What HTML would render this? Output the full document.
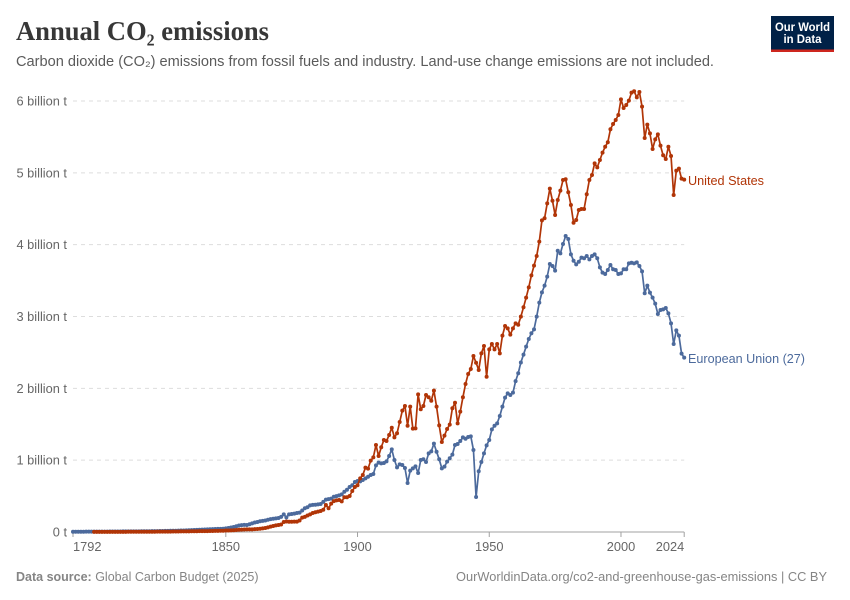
<!DOCTYPE html>
<html lang="en">
<head>
<meta charset="utf-8">
<title>Annual CO₂ emissions</title>
<style>
html,body{margin:0;padding:0;background:#fff}
svg{display:block}
text{font-family:"Liberation Sans",sans-serif}
</style>
</head>
<body>
<svg id="chart" xmlns="http://www.w3.org/2000/svg" width="850" height="600" viewBox="0 0 850 600">
  <rect width="850" height="600" fill="#fff"/>
  <text x="16" y="40" font-size="27" font-weight="700" fill="#373737" textLength="253" lengthAdjust="spacingAndGlyphs" style='font-family:"Liberation Serif",serif'>Annual CO₂ emissions</text>
  <text x="16" y="66" font-size="14.5" fill="#5b5b5b" textLength="698" lengthAdjust="spacingAndGlyphs">Carbon dioxide (CO₂) emissions from fossil fuels and industry. Land-use change emissions are not included.</text>
  <g>
    <rect x="771" y="16" width="63" height="36" fill="#002147"/>
    <rect x="771" y="49.5" width="63" height="2.5" fill="#ce261e"/>
    <text x="802.5" y="31" font-size="12" font-weight="700" fill="#fff" text-anchor="middle" textLength="55" lengthAdjust="spacingAndGlyphs">Our World</text>
    <text x="802.5" y="43" font-size="12" font-weight="700" fill="#fff" text-anchor="middle" textLength="38" lengthAdjust="spacingAndGlyphs">in Data</text>
  </g>
  <g id="grid"></g>
  <g id="yticks"></g>
  <g id="xaxis"></g>
  <g id="series"></g>
  <text x="688" y="185" font-size="13" fill="#b13507" textLength="76" lengthAdjust="spacingAndGlyphs">United States</text>
  <text x="688" y="363" font-size="13" fill="#4c6a9c" textLength="117" lengthAdjust="spacingAndGlyphs">European Union (27)</text>
  <text x="16" y="581" font-size="12.5" fill="#858585"><tspan font-weight="700">Data source:</tspan> Global Carbon Budget (2025)</text>
  <text x="827" y="581" font-size="12.5" fill="#858585" text-anchor="end" textLength="371" lengthAdjust="spacingAndGlyphs">OurWorldinData.org/co2-and-greenhouse-gas-emissions | CC BY</text>
</svg>
<script>
var yTickValues = [0, 1, 2, 3, 4, 5, 6];
var yTickLabels = ["0 t", "1 billion t", "2 billion t", "3 billion t", "4 billion t", "5 billion t", "6 billion t"];
var xTickYears = [1792, 1850, 1900, 1950, 2000, 2024];
var usStartYear = 1800;
var euStartYear = 1792;
var usValues = [
  .001,.001,.001,.001,.001,.001,.002,.002,.002,.002,
  .002,.002,.002,.003,.003,.003,.003,.003,.003,.004,
  .004,.004,.004,.004,.005,.005,.005,.006,.006,.006,
  .007,.007,.007,.008,.008,.009,.009,.01,.01,.011,
  .012,.012,.013,.013,.014,.014,.015,.016,.017,.018,
  .02,.021,.023,.025,.027,.031,.033,.035,.036,.037,
  .037,.04,.042,.045,.05,.055,.065,.074,.084,.092,
  .098,.104,.14,.146,.143,.142,.144,.144,.16,.2,
  .21,.23,.245,.265,.275,.283,.292,.31,.376,.33,
  .395,.43,.44,.445,.427,.483,.483,.501,.571,.626,
  .65,.747,.794,.896,.882,.993,1.039,1.211,1.058,1.179,
  1.281,1.267,1.35,1.452,1.318,1.374,1.531,1.689,1.754,1.48,
  1.745,1.439,1.443,1.916,1.708,1.754,1.907,1.875,1.828,1.968,
  1.745,1.485,1.253,1.341,1.434,1.494,1.722,1.8,1.513,1.675,
  1.875,2.06,2.2,2.269,2.45,2.357,2.255,2.487,2.589,2.162,
  2.543,2.617,2.543,2.617,2.487,2.733,2.868,2.835,2.747,2.835,
  2.905,2.886,2.998,3.128,3.262,3.406,3.573,3.708,3.842,4.042,
  4.339,4.367,4.575,4.78,4.612,4.413,4.622,4.752,4.9,4.91,
  4.729,4.552,4.306,4.343,4.483,4.497,4.497,4.701,4.9,4.97,
  5.132,5.076,5.179,5.281,5.364,5.425,5.606,5.68,5.735,5.805,
  6.023,5.903,5.944,6.005,6.116,6.135,6.051,6.125,5.921,5.485,
  5.671,5.55,5.332,5.466,5.536,5.378,5.244,5.193,5.364,5.234,
  4.691,5.03,5.058,4.919,4.905
];
var euValues = [
  .004,.004,.004,.004,.004,.005,.005,.005,
  .005,.005,.006,.006,.006,.006,.007,.007,.007,.007,
  .007,.008,.008,.008,.008,.009,.009,.009,.01,.01,
  .011,.011,.012,.012,.013,.014,.014,.015,.016,.017,
  .018,.018,.019,.02,.021,.022,.024,.026,.028,.03,
  .032,.033,.034,.036,.038,.04,.042,.044,.044,.046,
  .05,.056,.062,.07,.08,.09,.095,.1,.098,.108,
  .12,.132,.14,.15,.155,.16,.17,.18,.185,.19,
  .195,.21,.246,.204,.245,.25,.255,.265,.27,.3,
  .33,.345,.37,.378,.38,.385,.39,.42,.45,.458,
  .465,.49,.5,.51,.524,.561,.589,.626,.65,.696,
  .71,.705,.724,.747,.77,.794,.807,.928,.965,.956,
  .961,.984,1.058,1.151,1.002,.9,.942,.933,.891,.682,
  .854,.886,.914,.821,1.002,1.012,.974,1.095,1.123,1.23,
  1.118,1.012,.886,.91,.979,1.026,1.077,1.211,1.225,1.267,
  1.318,1.299,1.323,1.332,1.142,.487,.845,.974,1.095,1.206,
  1.281,1.429,1.48,1.513,1.615,1.745,1.87,1.93,1.907,1.94,
  2.1,2.21,2.36,2.47,2.58,2.687,2.766,2.821,2.998,3.193,
  3.336,3.429,3.555,3.731,3.703,3.638,3.916,3.879,4.009,4.121,
  4.079,3.865,3.777,3.726,3.763,3.819,3.81,3.842,3.796,3.842,
  3.865,3.81,3.684,3.61,3.592,3.647,3.717,3.657,3.647,3.592,
  3.601,3.657,3.657,3.74,3.749,3.74,3.754,3.703,3.629,3.323,
  3.429,3.332,3.262,3.179,3.035,3.09,3.1,3.118,3.044,2.905,
  2.617,2.807,2.733,2.483,2.427
];

var SVG_NS = "http://www.w3.org/2000/svg";
var X_MIN_YEAR = 1792, X_MAX_YEAR = 2024, X_LEFT = 73, X_RIGHT = 684.2;
var Y_BASE = 532, Y_TOP = 101, Y_MAX = 6;
function xScale(year) {
  return X_LEFT + (year - X_MIN_YEAR) * (X_RIGHT - X_LEFT) / (X_MAX_YEAR - X_MIN_YEAR);
}
function yScale(value) {
  return Y_BASE - value * (Y_BASE - Y_TOP) / Y_MAX;
}
function make(tag, attrs, parent) {
  var el = document.createElementNS(SVG_NS, tag);
  for (var k in attrs) el.setAttribute(k, attrs[k]);
  parent.appendChild(el);
  return el;
}

var gridGroup = document.getElementById("grid");
var yGroup = document.getElementById("yticks");
yTickValues.forEach(function (v, i) {
  if (v !== 0) {
    var line = make("line", {x1: X_LEFT, x2: X_RIGHT, y1: yScale(v), y2: yScale(v), stroke: "#dddddd", "stroke-width": 1, "stroke-dasharray": "4,4"}, gridGroup);
    
    
  }
  var label = make("text", {x: 67, y: yScale(v) + 4.5, "font-size": 12.8, fill: "#666666", "text-anchor": "end"}, yGroup);
  label.textContent = yTickLabels[i];
  
  
});

var xGroup = document.getElementById("xaxis");
var axisLine = make("line", {x1: X_LEFT, x2: X_RIGHT, y1: Y_BASE, y2: Y_BASE, stroke: "#a1a1a1", "stroke-width": 1}, xGroup);


xTickYears.forEach(function (yr, i) {
  var tick = make("line", {x1: xScale(yr), x2: xScale(yr), y1: Y_BASE, y2: Y_BASE + 5, stroke: "#a1a1a1", "stroke-width": 1}, xGroup);
  
  
  var anchor = i === 0 ? "start" : (i === xTickYears.length - 1 ? "end" : "middle");
  var label = make("text", {x: xScale(yr), y: 551, "font-size": 12.8, fill: "#666666", "text-anchor": anchor}, xGroup);
  label.textContent = String(yr);
  
  
});

function drawSeries(values, startYear, color) {
  var group = document.getElementById("series");
  var d = "";
  values.forEach(function (v, i) {
    d += (i ? "L" : "M") + xScale(startYear + i).toFixed(2) + " " + yScale(v).toFixed(2);
  });
  var path = make("path", {d: d, fill: "none", stroke: color, "stroke-width": 1.7, "stroke-linejoin": "round"}, group);
  
  
  values.forEach(function (v, i) {
    var dot = make("circle", {cx: xScale(startYear + i).toFixed(2), cy: yScale(v).toFixed(2), r: 2, fill: color}, group);
    
    
  });
}
drawSeries(euValues, euStartYear, "#4c6a9c");
drawSeries(usValues, usStartYear, "#b13507");
</script>
</body>
</html>
